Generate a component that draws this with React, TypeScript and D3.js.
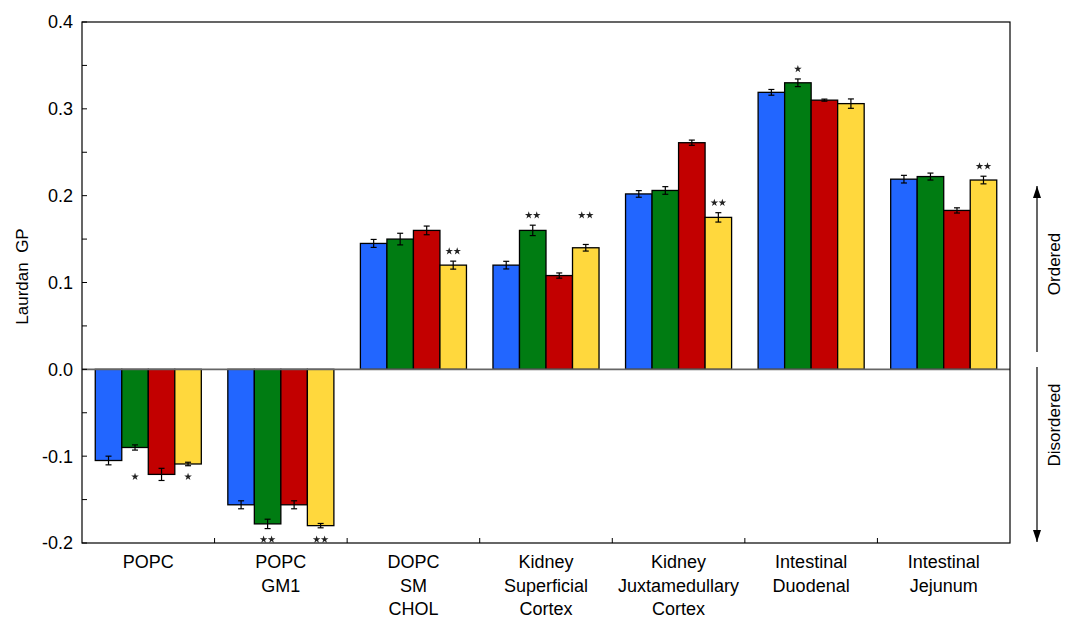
import React, { useEffect, useRef } from 'react';
import * as d3 from 'd3';

// group labels (multi-line)
const groups: string[][] = [
  ['POPC'],
  ['POPC', 'GM1'],
  ['DOPC', 'SM', 'CHOL'],
  ['Kidney', 'Superficial', 'Cortex'],
  ['Kidney', 'Juxtamedullary', 'Cortex'],
  ['Intestinal', 'Duodenal'],
  ['Intestinal', 'Jejunum'],
];

const seriesIds = ['blue', 'green', 'red', 'yellow'];
const seriesColors = ['#2266ff', '#007c12', '#c20000', '#ffd83d'];

const blueValues = [-0.105, -0.156, 0.145, 0.120, 0.202, 0.319, 0.219];
const greenValues = [-0.090, -0.178, 0.150, 0.160, 0.206, 0.330, 0.222];
const redValues = [-0.121, -0.156, 0.160, 0.108, 0.261, 0.310, 0.183];
const yellowValues = [-0.109, -0.180, 0.120, 0.140, 0.175, 0.306, 0.218];

const blueErrors = [0.005, 0.0046, 0.0046, 0.0044, 0.0038, 0.0033, 0.0044];
const greenErrors = [0.003, 0.0054, 0.0067, 0.006, 0.0044, 0.0044, 0.004];
const redErrors = [0.007, 0.0046, 0.005, 0.003, 0.003, 0.0012, 0.003];
const yellowErrors = [0.002, 0.0025, 0.0046, 0.0038, 0.0054, 0.0054, 0.0044];

const blueSig = ['', '', '', '', '', '', ''];
const greenSig = ['*', '**', '', '**', '', '*', ''];
const redSig = ['', '', '', '', '', '', ''];
const yellowSig = ['*', '**', '**', '**', '**', '', '**'];

const yMajorTicks = [-0.2, -0.1, 0.0, 0.1, 0.2, 0.3, 0.4];
const yTickLabels = ['-0.2', '-0.1', '0.0', '0.1', '0.2', '0.3', '0.4'];

const FONT = '"Liberation Sans", Arial, Helvetica, sans-serif';

export default function App() {
  const svgRef = useRef<SVGSVGElement>(null);

  useEffect(() => {
    if (!svgRef.current) return;
    const width = 1065;
    const height = 619;
    const margin = { top: 22, right: 55, bottom: 76, left: 82 };
    const x0 = margin.left;
    const x1 = width - margin.right;
    const yTop = margin.top;
    const yBot = height - margin.bottom;

    d3.select(svgRef.current).selectAll('*').remove();
    const svg = d3.select(svgRef.current).attr('width', width).attr('height', height);

    const values = [blueValues, greenValues, redValues, yellowValues];
    const errors = [blueErrors, greenErrors, redErrors, yellowErrors];
    const sigs = [blueSig, greenSig, redSig, yellowSig];

    const xScale = d3.scaleBand<number>()
      .domain(groups.map((_, i) => i))
      .range([x0, x1])
      .padding(0);

    const xInner = d3.scaleBand<string>()
      .domain(seriesIds)
      .range([0, xScale.bandwidth()])
      .paddingInner(0)
      .paddingOuter(0.5);

    const yScale = d3.scaleLinear().domain([-0.2, 0.4]).range([yBot, yTop]);

    // bars
    groups.forEach((_, gi) => {
      const g = svg.append('g').attr('transform', `translate(${xScale(gi)},0)`);
      seriesIds.forEach((sid, si) => {
        const v = values[si][gi];
        const bx = xInner(sid) as number;
        g.append('rect')
          .attr('x', bx)
          .attr('y', yScale(Math.max(0, v)))
          .attr('width', xInner.bandwidth())
          .attr('height', Math.abs(yScale(v) - yScale(0)))
          .attr('fill', seriesColors[si])
          .attr('stroke', '#000')
          .attr('stroke-width', 1.3);
      });
      // error bars
      seriesIds.forEach((sid, si) => {
        const v = values[si][gi];
        const e = errors[si][gi];
        const cx = (xInner(sid) as number) + xInner.bandwidth() / 2;
        const eg = g.append('g').attr('stroke', '#000').attr('stroke-width', 1.2);
        eg.append('line').attr('x1', cx).attr('x2', cx).attr('y1', yScale(v - e)).attr('y2', yScale(v + e));
        [v - e, v + e].forEach(ev => {
          eg.append('line').attr('x1', cx - 3).attr('x2', cx + 3).attr('y1', yScale(ev)).attr('y2', yScale(ev));
        });
      });
      // significance stars
      const sigIdx = seriesIds.map((_, si) => si).filter(si => sigs[si][gi] !== '');
      if (sigIdx.length) {
        const neg = values[sigIdx[0]][gi] < 0;
        const level = neg
          ? d3.max(sigIdx, si => yScale(values[si][gi] - errors[si][gi])) as number + 11
          : d3.min(sigIdx, si => yScale(values[si][gi] + errors[si][gi])) as number - 10;
        const star = d3.symbol().type(d3.symbolStar).size(18);
        sigIdx.forEach(si => {
          const n = sigs[si][gi].length;
          const cx = (xInner(seriesIds[si]) as number) + xInner.bandwidth() / 2;
          for (let k = 0; k < n; k++) {
            const sx = cx + (k - (n - 1) / 2) * 8;
            g.append('path')
              .attr('d', star() as string)
              .attr('transform', `translate(${sx},${level})`)
              .attr('fill', '#222');
          }
        });
      }
    });

    // zero line
    svg.append('line')
      .attr('x1', x0).attr('x2', x1)
      .attr('y1', yScale(0)).attr('y2', yScale(0))
      .attr('stroke', '#666').attr('stroke-width', 1.6);

    // frame
    svg.append('rect')
      .attr('x', x0).attr('y', yTop)
      .attr('width', x1 - x0).attr('height', yBot - yTop)
      .attr('fill', 'none').attr('stroke', '#000').attr('stroke-width', 1.2);

    // y ticks (inward), major + minor
    const minor = d3.range(-0.2, 0.4001, 0.05);
    minor.forEach(t => {
      svg.append('line')
        .attr('x1', x0).attr('x2', x0 + 5)
        .attr('y1', yScale(t)).attr('y2', yScale(t))
        .attr('stroke', '#000').attr('stroke-width', 1);
    });
    yMajorTicks.forEach((t, i) => {
      svg.append('text')
        .attr('x', x0 - 9)
        .attr('y', yScale(t))
        .attr('dy', '0.36em')
        .attr('text-anchor', 'end')
        .attr('font-family', FONT)
        .attr('font-size', 18)
        .text(yTickLabels[i]);
    });

    // x ticks at group boundaries (inward)
    groups.forEach((_, gi) => {
      if (gi === 0) return;
      const tx = xScale(gi) as number;
      svg.append('line')
        .attr('x1', tx).attr('x2', tx)
        .attr('y1', yBot).attr('y2', yBot - 5)
        .attr('stroke', '#000').attr('stroke-width', 1);
    });

    // x labels
    groups.forEach((lines, gi) => {
      const cx = (xScale(gi) as number) + xScale.bandwidth() / 2;
      const t = svg.append('text')
        .attr('text-anchor', 'middle')
        .attr('font-family', FONT)
        .attr('font-size', 18);
      lines.forEach((ln, li) => {
        t.append('tspan').attr('x', cx).attr('y', yBot + 25 + li * 23.5).text(ln);
      });
    });

    // y axis title
    svg.append('text')
      .attr('transform', `translate(28,${(yTop + yBot) / 2 - 6}) rotate(-90)`)
      .attr('text-anchor', 'middle')
      .attr('font-family', FONT)
      .attr('font-size', 17)
      .style('white-space', 'pre')
      .text('Laurdan  GP');

    // ordered / disordered arrows
    const ax = 1037;
    const arrow = (yFrom: number, yTo: number) => {
      svg.append('line')
        .attr('x1', ax).attr('x2', ax)
        .attr('y1', yFrom).attr('y2', yTo)
        .attr('stroke', '#000').attr('stroke-width', 1.2);
      const dir = yTo < yFrom ? -1 : 1;
      svg.append('path')
        .attr('d', `M${ax},${yTo} L${ax - 4},${yTo - dir * 12} L${ax + 4},${yTo - dir * 12} Z`)
        .attr('fill', '#000');
    };
    arrow(352, 186);
    arrow(367, 542);

    svg.append('text')
      .attr('transform', `translate(1060,${264}) rotate(-90)`)
      .attr('text-anchor', 'middle')
      .attr('font-family', FONT)
      .attr('font-size', 17)
      .text('Ordered');
    svg.append('text')
      .attr('transform', `translate(1060,${425}) rotate(-90)`)
      .attr('text-anchor', 'middle')
      .attr('font-family', FONT)
      .attr('font-size', 17)
      .text('Disordered');
  }, []);

  return (
    <svg
      ref={svgRef}
      style={{ position: 'absolute', left: 0, top: 0, background: '#fff' }}
    />
  );
}
